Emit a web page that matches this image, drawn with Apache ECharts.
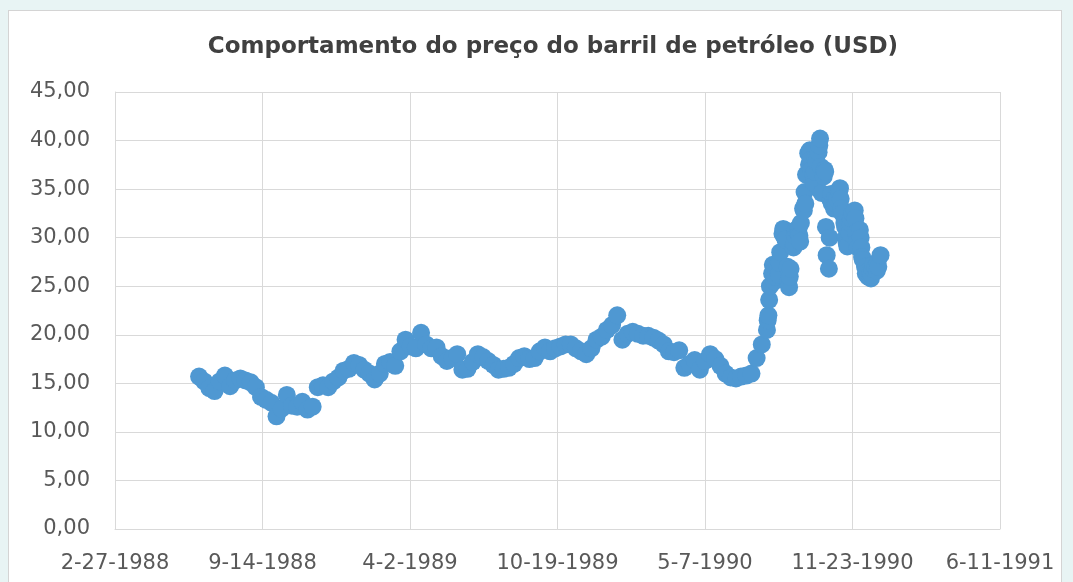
<!DOCTYPE html>
<html>
<head>
<meta charset="utf-8">
<script src="https://cdn.jsdelivr.net/npm/echarts@6/dist/echarts.min.js"></script>
<style>
    html, body { margin: 0; padding: 0; background: #e8f4f4; overflow: hidden; }
    .frame { position: absolute; left: 8px; top: 10px; width: 1052px; height: 620px; background: #fff; border: 1px solid #d4d4d4; }
    #main { position: absolute; left: 0; top: 0; width: 1073px; height: 582px; }
</style>
</head>
<body>
<div class="frame"></div>
<div id="main"></div>
<script>
// weekly closes, mid 1988 to july 1990
const weekDates = [
    '1988-06-20', '1988-06-27', '1988-07-04', '1988-07-11', '1988-07-18', '1988-07-25', '1988-08-01', '1988-08-08',
    '1988-08-15', '1988-08-22', '1988-08-29', '1988-09-05', '1988-09-12', '1988-09-19', '1988-09-26', '1988-10-03',
    '1988-10-10', '1988-10-17', '1988-10-24', '1988-10-31', '1988-11-07', '1988-11-14', '1988-11-21', '1988-11-28',
    '1988-12-05', '1988-12-12', '1988-12-19', '1988-12-26',
    '1989-01-02', '1989-01-09', '1989-01-16', '1989-01-23', '1989-01-30', '1989-02-06', '1989-02-13', '1989-02-20',
    '1989-02-27', '1989-03-06', '1989-03-13', '1989-03-20', '1989-03-27', '1989-04-03', '1989-04-10', '1989-04-17',
    '1989-04-24', '1989-05-01', '1989-05-08', '1989-05-15', '1989-05-22', '1989-05-29', '1989-06-05', '1989-06-12',
    '1989-06-19', '1989-06-26', '1989-07-03', '1989-07-10', '1989-07-17', '1989-07-24', '1989-07-31', '1989-08-07',
    '1989-08-14', '1989-08-21', '1989-08-28', '1989-09-04', '1989-09-11', '1989-09-18', '1989-09-25', '1989-10-02',
    '1989-10-09', '1989-10-16', '1989-10-23', '1989-10-30', '1989-11-06', '1989-11-13', '1989-11-20', '1989-11-27',
    '1989-12-04', '1989-12-11', '1989-12-18', '1989-12-25',
    '1990-01-01', '1990-01-08', '1990-01-15', '1990-01-22', '1990-01-29', '1990-02-05', '1990-02-12', '1990-02-19',
    '1990-02-26', '1990-03-05', '1990-03-12', '1990-03-19', '1990-03-26', '1990-04-02', '1990-04-09', '1990-04-16',
    '1990-04-23', '1990-04-30', '1990-05-07', '1990-05-14', '1990-05-21', '1990-05-28', '1990-06-04', '1990-06-11',
    '1990-06-18', '1990-06-25', '1990-07-02', '1990-07-09', '1990-07-16', '1990-07-23'
]
const weekPrices = [
    15.7, 15.2, 14.5, 14.2, 15.2, 15.8, 14.7, 15.3, 15.5, 15.3, 15.1, 14.6, 13.6, 13.3, 13.0, 11.6,
    12.4, 13.8, 12.7, 12.6, 13.1, 12.3, 12.6, 14.6, 14.8, 14.6, 15.2, 15.6,
    16.3, 16.5, 17.1, 16.9, 16.4, 16.0, 15.4, 16.0, 17.0, 17.2, 16.8, 18.3, 19.5, 18.8, 18.6, 20.2,
    19.0, 18.6, 18.7, 17.8, 17.3, 17.6, 18.0, 16.4, 16.5, 17.2, 18.0, 17.7, 17.3, 16.9, 16.4, 16.5,
    16.6, 17.0, 17.6, 17.8, 17.5, 17.6, 18.3, 18.7, 18.3, 18.6, 18.8, 19.0, 19.0, 18.6, 18.3, 18.0,
    18.6, 19.5, 19.8, 20.5,
    21.0, 22.0, 19.5, 20.1, 20.3, 20.1, 19.9, 19.9, 19.7, 19.4, 19.0, 18.3, 18.2, 18.4, 16.6, 17.0,
    17.4, 16.4, 17.3, 18.0, 17.5, 16.8, 16.0, 15.6, 15.5, 15.7, 15.8, 16.0, 17.6, 19.0
]

// daily closes from the invasion of kuwait to year end
const dayDates = [
    '1990-07-30', '1990-07-31', '1990-08-01', '1990-08-02', '1990-08-03', '1990-08-06', '1990-08-07', '1990-08-08',
    '1990-08-09', '1990-08-10', '1990-08-13', '1990-08-14', '1990-08-15', '1990-08-16', '1990-08-17', '1990-08-20',
    '1990-08-21', '1990-08-22', '1990-08-23', '1990-08-24', '1990-08-27', '1990-08-28', '1990-08-29', '1990-08-30',
    '1990-08-31', '1990-09-04', '1990-09-05', '1990-09-06', '1990-09-07', '1990-09-10', '1990-09-11', '1990-09-12',
    '1990-09-13', '1990-09-14', '1990-09-17', '1990-09-18', '1990-09-19', '1990-09-20', '1990-09-21', '1990-09-24',
    '1990-09-25', '1990-09-26', '1990-09-27', '1990-09-28', '1990-10-01', '1990-10-02', '1990-10-03', '1990-10-04',
    '1990-10-05', '1990-10-08', '1990-10-09', '1990-10-10', '1990-10-11', '1990-10-12', '1990-10-15', '1990-10-16',
    '1990-10-17', '1990-10-18', '1990-10-19', '1990-10-22', '1990-10-23', '1990-10-24', '1990-10-25', '1990-10-26',
    '1990-10-29', '1990-10-30', '1990-10-31', '1990-11-01', '1990-11-02', '1990-11-05', '1990-11-06', '1990-11-07',
    '1990-11-08', '1990-11-09', '1990-11-12', '1990-11-13', '1990-11-14', '1990-11-15', '1990-11-16', '1990-11-19',
    '1990-11-20', '1990-11-21', '1990-11-23', '1990-11-26', '1990-11-27', '1990-11-28', '1990-11-29', '1990-11-30',
    '1990-12-03', '1990-12-04', '1990-12-05', '1990-12-06', '1990-12-07', '1990-12-10', '1990-12-11', '1990-12-12',
    '1990-12-13', '1990-12-14', '1990-12-17', '1990-12-18', '1990-12-19', '1990-12-20', '1990-12-21', '1990-12-24',
    '1990-12-26', '1990-12-27', '1990-12-28', '1990-12-31'
]
const dayPrices = [
    20.5, 21.5, 22.0, 23.6, 25.0, 26.3, 27.2, 26.5, 25.5, 26.0, 27.0, 26.6, 26.2, 27.4, 28.5, 30.4,
    30.9, 30.5, 30.8, 29.8, 27.0, 25.5, 24.9, 26.0, 26.8, 29.0, 29.4, 30.2, 30.8, 30.6, 31.0, 30.2,
    29.6, 31.5, 33.0, 32.8, 34.7, 33.5, 36.5, 38.7, 37.5, 39.0, 38.0, 37.0, 36.5, 35.6, 36.8, 38.2,
    37.8, 38.8, 39.5, 40.2, 37.3, 34.6, 36.3, 37.0, 36.8, 31.1, 28.2, 26.8, 30.0, 33.9, 34.5, 33.5,
    33.0, 34.0, 33.5, 33.5, 34.0, 34.8, 35.1, 34.0, 33.0, 32.5, 31.5, 31.1, 30.0, 29.5, 29.1, 30.5,
    31.5, 32.0, 32.5, 32.8, 32.0, 30.5, 29.5, 29.0, 30.8, 30.0, 29.0, 28.0, 27.7, 27.0, 26.3, 27.0,
    26.5, 26.0, 26.3, 25.8, 26.2, 26.8, 27.2, 27.0, 26.6, 27.5, 27.0, 28.2
]

// axis in excel day serials: 2-27-1988 .. 6-11-1991, a tick every 200 days
const xMin = 32200
const xMax = 33400
const xStep = 200
const yTicks = [0, 5, 10, 15, 20, 25, 30, 35, 40, 45]

const DAY = 86400000
const EPOCH = Date.UTC(1899, 11, 30)
const toSerial = (s) => {
    const p = s.split('-')
    return Math.round((Date.UTC(+p[0], +p[1] - 1, +p[2]) - EPOCH) / DAY)
}
const fromSerial = (v) => {
    const d = new Date(EPOCH + v * DAY)
    return (d.getUTCMonth() + 1) + '-' + d.getUTCDate() + '-' + d.getUTCFullYear()
}

const points = []
weekDates.forEach((d, i) => points.push([toSerial(d), weekPrices[i]]))
dayDates.forEach((d, i) => points.push([toSerial(d), dayPrices[i]]))

const gridColor = '#d9d9d9'
const labelStyle = { color: '#595959', fontFamily: 'DejaVu Sans', fontSize: 21 }

var myChart = echarts.init(document.getElementById('main'))
var option = {
    animation: false,
    title: {
        text: 'Comportamento do preço do barril de petróleo (USD)',
        left: 548,
        top: 31,
        textAlign: 'center',
        textStyle: { color: '#404040', fontFamily: 'DejaVu Sans', fontWeight: 'bold', fontSize: 23 }
    },
    grid: { left: 115, right: 73, top: 92, bottom: 53, containLabel: false },
    xAxis: {
        type: 'value',
        min: xMin,
        max: xMax,
        interval: xStep,
        axisLine: { show: true, lineStyle: { color: gridColor } },
        axisTick: { show: false },
        splitLine: { show: true, lineStyle: { color: gridColor } },
        axisLabel: Object.assign({ margin: 24, formatter: fromSerial }, labelStyle)
    },
    yAxis: {
        type: 'value',
        min: yTicks[0],
        max: yTicks[yTicks.length - 1],
        interval: yTicks[1] - yTicks[0],
        axisLine: { show: true, lineStyle: { color: gridColor } },
        axisTick: { show: false },
        splitLine: { show: true, lineStyle: { color: gridColor } },
        axisLabel: Object.assign({ margin: 25, formatter: (v) => v.toFixed(2).replace('.', ',') }, labelStyle)
    },
    series: [
        {
            type: 'scatter',
            symbol: 'circle',
            symbolSize: 18,
            itemStyle: { color: '#4f98d2', opacity: 1 },
            data: points
        }
    ]
}
option && myChart.setOption(option)
</script>
</body>
</html>
